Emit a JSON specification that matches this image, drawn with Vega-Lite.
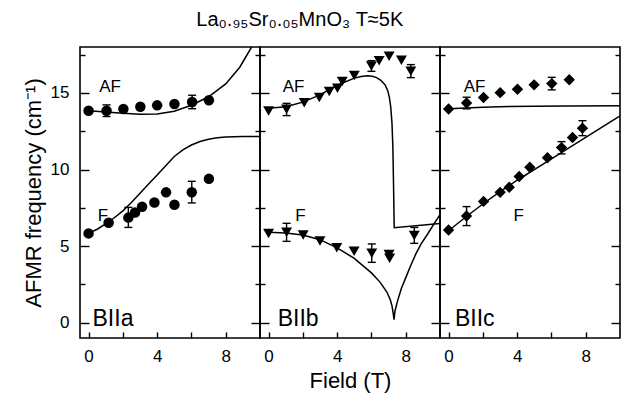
{
  "$schema": "https://vega.github.io/schema/vega-lite/v6.json",
  "padding": {"left": 21, "top": 10, "right": 2, "bottom": 2},
  "config": {
    "font": "Liberation Sans",
    "view": {"stroke": "black", "strokeWidth": 1.6},
    "axis": {
      "domain": false, "grid": false, "tickColor": "black", "tickWidth": 1.4,
      "labelFont": "Liberation Sans", "labelFontSize": 17, "labelColor": "black",
      "titleFont": "Liberation Sans", "titleFontSize": 22, "titleFontWeight": "normal", "titleColor": "black"
    }
  },
  "title": {"text": "La₀.₉₅Sr₀.₀₅MnO₃\u00a0T≈5K", "fontSize": 20, "fontWeight": "normal", "font": "Liberation Sans", "color": "black", "anchor": "start", "dx": 175, "offset": 16},
  "spacing": 0,
  "bounds": "flush",
  "datasets": {
    "points": [
      {"panel": "a", "s": "AF", "t": 0, "v": 13.84}, {"panel": "a", "s": "AF", "t": 1.05, "v": 13.84}, {"panel": "a", "s": "AF", "t": 2.03, "v": 13.95}, {"panel": "a", "s": "AF", "t": 3.02, "v": 14.1}, {"panel": "a", "s": "AF", "t": 4.0, "v": 14.19}, {"panel": "a", "s": "AF", "t": 5.01, "v": 14.28}, {"panel": "a", "s": "AF", "t": 6.04, "v": 14.41}, {"panel": "a", "s": "AF", "t": 7.02, "v": 14.52},
      {"panel": "a", "s": "F", "t": 0, "v": 5.83}, {"panel": "a", "s": "F", "t": 1.17, "v": 6.53}, {"panel": "a", "s": "F", "t": 2.32, "v": 6.86}, {"panel": "a", "s": "F", "t": 2.71, "v": 7.19}, {"panel": "a", "s": "F", "t": 3.12, "v": 7.57}, {"panel": "a", "s": "F", "t": 3.84, "v": 7.85}, {"panel": "a", "s": "F", "t": 4.52, "v": 8.51}, {"panel": "a", "s": "F", "t": 5.01, "v": 7.7}, {"panel": "a", "s": "F", "t": 6.02, "v": 8.52}, {"panel": "a", "s": "F", "t": 7.02, "v": 9.39},
      {"panel": "b", "s": "AF", "t": 0, "v": 13.82}, {"panel": "b", "s": "AF", "t": 1.05, "v": 13.93}, {"panel": "b", "s": "AF", "t": 2.08, "v": 14.36}, {"panel": "b", "s": "AF", "t": 2.96, "v": 14.71}, {"panel": "b", "s": "AF", "t": 3.54, "v": 15.09}, {"panel": "b", "s": "AF", "t": 4.02, "v": 15.3}, {"panel": "b", "s": "AF", "t": 4.3, "v": 15.75}, {"panel": "b", "s": "AF", "t": 5.0, "v": 16.14}, {"panel": "b", "s": "AF", "t": 6.0, "v": 16.76}, {"panel": "b", "s": "AF", "t": 6.45, "v": 17.1}, {"panel": "b", "s": "AF", "t": 7.03, "v": 17.39}, {"panel": "b", "s": "AF", "t": 7.75, "v": 17.13}, {"panel": "b", "s": "AF", "t": 8.3, "v": 16.42},
      {"panel": "b", "s": "F", "t": 0, "v": 5.83}, {"panel": "b", "s": "F", "t": 1.05, "v": 5.9}, {"panel": "b", "s": "F", "t": 2.02, "v": 5.72}, {"panel": "b", "s": "F", "t": 3.0, "v": 5.33}, {"panel": "b", "s": "F", "t": 3.98, "v": 4.89}, {"panel": "b", "s": "F", "t": 4.99, "v": 4.67}, {"panel": "b", "s": "F", "t": 6.02, "v": 4.54}, {"panel": "b", "s": "F", "t": 7.03, "v": 4.45}, {"panel": "b", "s": "F", "t": 7.06, "v": 4.2}, {"panel": "b", "s": "F", "t": 8.5, "v": 5.7},
      {"panel": "c", "s": "AF", "t": 0, "v": 13.95}, {"panel": "c", "s": "AF", "t": 1.05, "v": 14.34}, {"panel": "c", "s": "AF", "t": 2.04, "v": 14.7}, {"panel": "c", "s": "AF", "t": 3.01, "v": 15.02}, {"panel": "c", "s": "AF", "t": 4.02, "v": 15.24}, {"panel": "c", "s": "AF", "t": 4.99, "v": 15.53}, {"panel": "c", "s": "AF", "t": 6.02, "v": 15.61}, {"panel": "c", "s": "AF", "t": 7.04, "v": 15.86},
      {"panel": "c", "s": "F", "t": 0, "v": 6.05}, {"panel": "c", "s": "F", "t": 1.05, "v": 6.97}, {"panel": "c", "s": "F", "t": 2.04, "v": 7.92}, {"panel": "c", "s": "F", "t": 3.01, "v": 8.51}, {"panel": "c", "s": "F", "t": 3.54, "v": 8.84}, {"panel": "c", "s": "F", "t": 4.12, "v": 9.54}, {"panel": "c", "s": "F", "t": 4.74, "v": 10.15}, {"panel": "c", "s": "F", "t": 5.77, "v": 10.77}, {"panel": "c", "s": "F", "t": 6.59, "v": 11.43}, {"panel": "c", "s": "F", "t": 7.23, "v": 12.09}, {"panel": "c", "s": "F", "t": 7.81, "v": 12.7}
    ],
    "errs": [
      {"panel": "a", "t": 1.05, "lo": 13.46, "hi": 14.22}, {"panel": "a", "t": 6.04, "lo": 13.97, "hi": 14.85}, {"panel": "a", "t": 2.32, "lo": 6.22, "hi": 7.53}, {"panel": "a", "t": 6.02, "lo": 7.82, "hi": 9.23},
      {"panel": "b", "t": 1.05, "lo": 13.52, "hi": 14.32}, {"panel": "b", "t": 6.0, "lo": 16.41, "hi": 17.11}, {"panel": "b", "t": 8.3, "lo": 16.0, "hi": 16.85},
      {"panel": "b", "t": 1.05, "lo": 5.31, "hi": 6.49}, {"panel": "b", "t": 6.02, "lo": 3.94, "hi": 5.14}, {"panel": "b", "t": 8.5, "lo": 5.18, "hi": 6.22},
      {"panel": "c", "t": 1.05, "lo": 13.96, "hi": 14.72}, {"panel": "c", "t": 6.02, "lo": 15.2, "hi": 16.02},
      {"panel": "c", "t": 1.05, "lo": 6.34, "hi": 7.58}, {"panel": "c", "t": 6.59, "lo": 11.02, "hi": 11.82}, {"panel": "c", "t": 7.81, "lo": 12.21, "hi": 13.19}
    ],
    "curves": [
      {"panel": "a", "s": "AF", "t": 0, "v": 13.84}, {"panel": "a", "s": "AF", "t": 1, "v": 13.75}, {"panel": "a", "s": "AF", "t": 2, "v": 13.67}, {"panel": "a", "s": "AF", "t": 3, "v": 13.61}, {"panel": "a", "s": "AF", "t": 4, "v": 13.63}, {"panel": "a", "s": "AF", "t": 5, "v": 13.8}, {"panel": "a", "s": "AF", "t": 6, "v": 14.2}, {"panel": "a", "s": "AF", "t": 7, "v": 14.75}, {"panel": "a", "s": "AF", "t": 8, "v": 15.59}, {"panel": "a", "s": "AF", "t": 8.82, "v": 16.68}, {"panel": "a", "s": "AF", "t": 9.5, "v": 17.98}, {"panel": "a", "s": "AF", "t": 10, "v": 19.1},
      {"panel": "a", "s": "F", "t": 0, "v": 5.83}, {"panel": "a", "s": "F", "t": 0.5, "v": 6.1}, {"panel": "a", "s": "F", "t": 1, "v": 6.45}, {"panel": "a", "s": "F", "t": 1.5, "v": 6.85}, {"panel": "a", "s": "F", "t": 2, "v": 7.3}, {"panel": "a", "s": "F", "t": 2.5, "v": 7.85}, {"panel": "a", "s": "F", "t": 3, "v": 8.45}, {"panel": "a", "s": "F", "t": 3.5, "v": 9.05}, {"panel": "a", "s": "F", "t": 4, "v": 9.65}, {"panel": "a", "s": "F", "t": 4.5, "v": 10.25}, {"panel": "a", "s": "F", "t": 5, "v": 10.85}, {"panel": "a", "s": "F", "t": 5.5, "v": 11.28}, {"panel": "a", "s": "F", "t": 6, "v": 11.6}, {"panel": "a", "s": "F", "t": 6.5, "v": 11.83}, {"panel": "a", "s": "F", "t": 7, "v": 11.98}, {"panel": "a", "s": "F", "t": 7.5, "v": 12.08}, {"panel": "a", "s": "F", "t": 8, "v": 12.13}, {"panel": "a", "s": "F", "t": 9, "v": 12.15}, {"panel": "a", "s": "F", "t": 10, "v": 12.15},
      {"panel": "b", "s": "AF", "t": 0, "v": 14.0}, {"panel": "b", "s": "AF", "t": 1, "v": 14.1}, {"panel": "b", "s": "AF", "t": 2, "v": 14.4}, {"panel": "b", "s": "AF", "t": 3, "v": 14.87}, {"panel": "b", "s": "AF", "t": 4, "v": 15.5}, {"panel": "b", "s": "AF", "t": 5, "v": 15.97}, {"panel": "b", "s": "AF", "t": 5.4, "v": 16.08}, {"panel": "b", "s": "AF", "t": 5.77, "v": 16.12}, {"panel": "b", "s": "AF", "t": 6.05, "v": 16.09}, {"panel": "b", "s": "AF", "t": 6.3, "v": 16.0}, {"panel": "b", "s": "AF", "t": 6.55, "v": 15.83}, {"panel": "b", "s": "AF", "t": 6.8, "v": 15.52}, {"panel": "b", "s": "AF", "t": 6.95, "v": 15.15}, {"panel": "b", "s": "AF", "t": 7.05, "v": 14.7}, {"panel": "b", "s": "AF", "t": 7.13, "v": 14.05}, {"panel": "b", "s": "AF", "t": 7.2, "v": 13.0}, {"panel": "b", "s": "AF", "t": 7.25, "v": 11.5}, {"panel": "b", "s": "AF", "t": 7.29, "v": 9.0}, {"panel": "b", "s": "AF", "t": 7.31, "v": 7.5}, {"panel": "b", "s": "AF", "t": 7.33, "v": 6.2}, {"panel": "b", "s": "AF", "t": 10, "v": 6.47},
      {"panel": "b", "s": "F", "t": 0, "v": 5.9}, {"panel": "b", "s": "F", "t": 1, "v": 5.85}, {"panel": "b", "s": "F", "t": 2, "v": 5.72}, {"panel": "b", "s": "F", "t": 3, "v": 5.42}, {"panel": "b", "s": "F", "t": 4, "v": 4.88}, {"panel": "b", "s": "F", "t": 5, "v": 4.2}, {"panel": "b", "s": "F", "t": 6, "v": 3.25}, {"panel": "b", "s": "F", "t": 6.5, "v": 2.65}, {"panel": "b", "s": "F", "t": 6.9, "v": 2.0}, {"panel": "b", "s": "F", "t": 7.1, "v": 1.5}, {"panel": "b", "s": "F", "t": 7.2, "v": 1.1}, {"panel": "b", "s": "F", "t": 7.27, "v": 0.6}, {"panel": "b", "s": "F", "t": 7.32, "v": 0.2}, {"panel": "b", "s": "F", "t": 7.37, "v": 0.75}, {"panel": "b", "s": "F", "t": 7.53, "v": 1.44}, {"panel": "b", "s": "F", "t": 7.75, "v": 2.25}, {"panel": "b", "s": "F", "t": 8.01, "v": 2.96}, {"panel": "b", "s": "F", "t": 8.3, "v": 3.75}, {"panel": "b", "s": "F", "t": 8.59, "v": 4.49}, {"panel": "b", "s": "F", "t": 8.9, "v": 5.15}, {"panel": "b", "s": "F", "t": 9.28, "v": 5.79}, {"panel": "b", "s": "F", "t": 9.65, "v": 6.45}, {"panel": "b", "s": "F", "t": 10, "v": 7.05},
      {"panel": "c", "s": "AF", "t": 0, "v": 13.97}, {"panel": "c", "s": "AF", "t": 1, "v": 14.02}, {"panel": "c", "s": "AF", "t": 2, "v": 14.07}, {"panel": "c", "s": "AF", "t": 3, "v": 14.1}, {"panel": "c", "s": "AF", "t": 5, "v": 14.13}, {"panel": "c", "s": "AF", "t": 7, "v": 14.15}, {"panel": "c", "s": "AF", "t": 10, "v": 14.17},
      {"panel": "c", "s": "F", "t": 0, "v": 6.0}, {"panel": "c", "s": "F", "t": 1, "v": 6.9}, {"panel": "c", "s": "F", "t": 2, "v": 7.75}, {"panel": "c", "s": "F", "t": 3, "v": 8.55}, {"panel": "c", "s": "F", "t": 4, "v": 9.3}, {"panel": "c", "s": "F", "t": 5, "v": 10.0}, {"panel": "c", "s": "F", "t": 6, "v": 10.7}, {"panel": "c", "s": "F", "t": 7, "v": 11.4}, {"panel": "c", "s": "F", "t": 8, "v": 12.1}, {"panel": "c", "s": "F", "t": 9, "v": 12.8}, {"panel": "c", "s": "F", "t": 10, "v": 13.5}
    ],
    "labels": [
      {"panel": "a", "kind": "phase", "t": 0.62, "v": 15.37, "text": "AF"}, {"panel": "a", "kind": "phase", "t": 0.53, "v": 6.94, "text": "F"}, {"panel": "a", "kind": "geom", "t": 0.23, "v": 0.24, "text": "BIIa"},
      {"panel": "b", "kind": "phase", "t": 0.82, "v": 15.4, "text": "AF"}, {"panel": "b", "kind": "phase", "t": 1.56, "v": 6.99, "text": "F"}, {"panel": "b", "kind": "geom", "t": 0.53, "v": 0.26, "text": "BIIb"},
      {"panel": "c", "kind": "phase", "t": 0.88, "v": 15.37, "text": "AF"}, {"panel": "c", "kind": "phase", "t": 3.79, "v": 6.96, "text": "F"}, {"panel": "c", "kind": "geom", "t": 0.37, "v": 0.25, "text": "BIIc"}
    ]
  },
  "hconcat": [
    {
      "width": 180, "height": 291,
      "resolve": {"axis": {"y": "independent"}},
      "layer": [
        {"data": {"name": "curves"}, "transform": [{"filter": "datum.panel === 'a'"}],
         "mark": {"type": "line", "color": "black", "strokeWidth": 1.5, "clip": true},
         "encoding": {
           "x": {"field": "t", "type": "quantitative", "scale": {"domain": [-0.5, 10], "nice": false, "zero": false},
                 "axis": {"orient": "bottom", "values": [0, 2, 4, 6, 8], "labelExpr": "datum.value % 4 === 0 ? datum.label : ''", "title": null, "tickSize": 6, "offset": -6, "labelPadding": 10, "labelFontSize": 17}},
           "y": {"field": "v", "type": "quantitative", "scale": {"domain": [-1, 18], "nice": false, "zero": false},
                 "axis": {"orient": "left", "values": [0, 5, 10, 15], "title": "AFMR frequency (cm⁻¹)", "tickSize": 9, "offset": -9, "labelPadding": 11, "titlePadding": 5, "labelFontSize": 17, "titleFontSize": 22}},
           "detail": {"field": "s"}
         }},
        {"data": {"name": "points"}, "transform": [{"filter": "datum.panel === 'a'"}],
         "mark": {"type": "point", "shape": "circle", "filled": true, "color": "black", "opacity": 1, "size": 110},
         "encoding": {"x": {"field": "t", "type": "quantitative"}, "y": {"field": "v", "type": "quantitative", "axis": null}}},
        {"data": {"name": "errs"}, "transform": [{"filter": "datum.panel === 'a'"}],
         "mark": {"type": "rule", "color": "black", "strokeWidth": 1.4},
         "encoding": {"x": {"field": "t", "type": "quantitative"}, "y": {"field": "lo", "type": "quantitative", "axis": null}, "y2": {"field": "hi"}}},
        {"data": {"name": "errs"}, "transform": [{"filter": "datum.panel === 'a'"}],
         "mark": {"type": "tick", "orient": "horizontal", "color": "black", "size": 8, "thickness": 1.4, "opacity": 1},
         "encoding": {"x": {"field": "t", "type": "quantitative"}, "y": {"field": "lo", "type": "quantitative", "axis": null}}},
        {"data": {"name": "errs"}, "transform": [{"filter": "datum.panel === 'a'"}],
         "mark": {"type": "tick", "orient": "horizontal", "color": "black", "size": 8, "thickness": 1.4, "opacity": 1},
         "encoding": {"x": {"field": "t", "type": "quantitative"}, "y": {"field": "hi", "type": "quantitative", "axis": null}}},
        {"data": {"name": "labels"}, "transform": [{"filter": "datum.panel === 'a' && datum.kind === 'phase'"}],
         "mark": {"type": "text", "align": "left", "baseline": "middle", "fontSize": 17, "color": "black"},
         "encoding": {"x": {"field": "t", "type": "quantitative"}, "y": {"field": "v", "type": "quantitative", "axis": null}, "text": {"field": "text"}}},
        {"data": {"name": "labels"}, "transform": [{"filter": "datum.panel === 'a' && datum.kind === 'geom'"}],
         "mark": {"type": "text", "align": "left", "baseline": "middle", "fontSize": 23, "color": "black"},
         "encoding": {"x": {"field": "t", "type": "quantitative"}, "y": {"field": "v", "type": "quantitative", "axis": null}, "text": {"field": "text"}}},
        {"data": {"name": "points"}, "transform": [{"filter": "datum.panel === 'a'"}],
         "mark": {"type": "point", "opacity": 0},
         "encoding": {"x": {"field": "t", "type": "quantitative"}, "y": {"field": "v", "type": "quantitative", "axis": {"orient": "left", "values": [2.5, 7.5, 12.5, 17.5], "labels": false, "title": null, "tickSize": 5, "offset": -5}}}},
        {"data": {"name": "points"}, "transform": [{"filter": "datum.panel === 'a'"}],
         "mark": {"type": "point", "opacity": 0},
         "encoding": {"x": {"field": "t", "type": "quantitative"}, "y": {"field": "v", "type": "quantitative", "axis": {"orient": "right", "values": [0, 5, 10, 15], "labels": false, "title": null, "tickSize": 9, "offset": -9}}}},
        {"data": {"name": "points"}, "transform": [{"filter": "datum.panel === 'a'"}],
         "mark": {"type": "point", "opacity": 0},
         "encoding": {"x": {"field": "t", "type": "quantitative"}, "y": {"field": "v", "type": "quantitative", "axis": {"orient": "right", "values": [2.5, 7.5, 12.5, 17.5], "labels": false, "title": null, "tickSize": 5, "offset": -5}}}}
      ]
    },
    {
      "width": 180, "height": 291,
      "resolve": {"axis": {"y": "independent"}},
      "layer": [
        {"data": {"name": "curves"}, "transform": [{"filter": "datum.panel === 'b'"}],
         "mark": {"type": "line", "color": "black", "strokeWidth": 1.5, "clip": true},
         "encoding": {
           "x": {"field": "t", "type": "quantitative", "scale": {"domain": [-0.5, 10], "nice": false, "zero": false},
                 "axis": {"orient": "bottom", "values": [0, 2, 4, 6, 8], "labelExpr": "datum.value % 4 === 0 ? datum.label : ''", "title": "Field (T)", "titlePadding": 6, "tickSize": 6, "offset": -6, "labelPadding": 10, "labelFontSize": 17, "titleFontSize": 22}},
           "y": {"field": "v", "type": "quantitative", "scale": {"domain": [-1, 18], "nice": false, "zero": false},
                 "axis": {"orient": "left", "values": [0, 5, 10, 15], "labels": false, "title": null, "tickSize": 9, "offset": -9}},
           "detail": {"field": "s"}
         }},
        {"data": {"name": "points"}, "transform": [{"filter": "datum.panel === 'b'"}],
         "mark": {"type": "point", "shape": "triangle-down", "filled": true, "color": "black", "opacity": 1, "size": 120},
         "encoding": {"x": {"field": "t", "type": "quantitative"}, "y": {"field": "v", "type": "quantitative", "axis": null}}},
        {"data": {"name": "errs"}, "transform": [{"filter": "datum.panel === 'b'"}],
         "mark": {"type": "rule", "color": "black", "strokeWidth": 1.4},
         "encoding": {"x": {"field": "t", "type": "quantitative"}, "y": {"field": "lo", "type": "quantitative", "axis": null}, "y2": {"field": "hi"}}},
        {"data": {"name": "errs"}, "transform": [{"filter": "datum.panel === 'b'"}],
         "mark": {"type": "tick", "orient": "horizontal", "color": "black", "size": 8, "thickness": 1.4, "opacity": 1},
         "encoding": {"x": {"field": "t", "type": "quantitative"}, "y": {"field": "lo", "type": "quantitative", "axis": null}}},
        {"data": {"name": "errs"}, "transform": [{"filter": "datum.panel === 'b'"}],
         "mark": {"type": "tick", "orient": "horizontal", "color": "black", "size": 8, "thickness": 1.4, "opacity": 1},
         "encoding": {"x": {"field": "t", "type": "quantitative"}, "y": {"field": "hi", "type": "quantitative", "axis": null}}},
        {"data": {"name": "labels"}, "transform": [{"filter": "datum.panel === 'b' && datum.kind === 'phase'"}],
         "mark": {"type": "text", "align": "left", "baseline": "middle", "fontSize": 17, "color": "black"},
         "encoding": {"x": {"field": "t", "type": "quantitative"}, "y": {"field": "v", "type": "quantitative", "axis": null}, "text": {"field": "text"}}},
        {"data": {"name": "labels"}, "transform": [{"filter": "datum.panel === 'b' && datum.kind === 'geom'"}],
         "mark": {"type": "text", "align": "left", "baseline": "middle", "fontSize": 23, "color": "black"},
         "encoding": {"x": {"field": "t", "type": "quantitative"}, "y": {"field": "v", "type": "quantitative", "axis": null}, "text": {"field": "text"}}},
        {"data": {"name": "points"}, "transform": [{"filter": "datum.panel === 'b'"}],
         "mark": {"type": "point", "opacity": 0},
         "encoding": {"x": {"field": "t", "type": "quantitative"}, "y": {"field": "v", "type": "quantitative", "axis": {"orient": "left", "values": [2.5, 7.5, 12.5, 17.5], "labels": false, "title": null, "tickSize": 5, "offset": -5}}}},
        {"data": {"name": "points"}, "transform": [{"filter": "datum.panel === 'b'"}],
         "mark": {"type": "point", "opacity": 0},
         "encoding": {"x": {"field": "t", "type": "quantitative"}, "y": {"field": "v", "type": "quantitative", "axis": {"orient": "right", "values": [0, 5, 10, 15], "labels": false, "title": null, "tickSize": 9, "offset": -9}}}},
        {"data": {"name": "points"}, "transform": [{"filter": "datum.panel === 'b'"}],
         "mark": {"type": "point", "opacity": 0},
         "encoding": {"x": {"field": "t", "type": "quantitative"}, "y": {"field": "v", "type": "quantitative", "axis": {"orient": "right", "values": [2.5, 7.5, 12.5, 17.5], "labels": false, "title": null, "tickSize": 5, "offset": -5}}}}
      ]
    },
    {
      "width": 180, "height": 291,
      "resolve": {"axis": {"y": "independent"}},
      "layer": [
        {"data": {"name": "curves"}, "transform": [{"filter": "datum.panel === 'c'"}],
         "mark": {"type": "line", "color": "black", "strokeWidth": 1.5, "clip": true},
         "encoding": {
           "x": {"field": "t", "type": "quantitative", "scale": {"domain": [-0.5, 10], "nice": false, "zero": false},
                 "axis": {"orient": "bottom", "values": [0, 2, 4, 6, 8], "labelExpr": "datum.value % 4 === 0 ? datum.label : ''", "title": null, "tickSize": 6, "offset": -6, "labelPadding": 10, "labelFontSize": 17}},
           "y": {"field": "v", "type": "quantitative", "scale": {"domain": [-1, 18], "nice": false, "zero": false},
                 "axis": {"orient": "left", "values": [0, 5, 10, 15], "labels": false, "title": null, "tickSize": 9, "offset": -9}},
           "detail": {"field": "s"}
         }},
        {"data": {"name": "points"}, "transform": [{"filter": "datum.panel === 'c'"}],
         "mark": {"type": "point", "shape": "diamond", "filled": true, "color": "black", "opacity": 1, "size": 130},
         "encoding": {"x": {"field": "t", "type": "quantitative"}, "y": {"field": "v", "type": "quantitative", "axis": null}}},
        {"data": {"name": "errs"}, "transform": [{"filter": "datum.panel === 'c'"}],
         "mark": {"type": "rule", "color": "black", "strokeWidth": 1.4},
         "encoding": {"x": {"field": "t", "type": "quantitative"}, "y": {"field": "lo", "type": "quantitative", "axis": null}, "y2": {"field": "hi"}}},
        {"data": {"name": "errs"}, "transform": [{"filter": "datum.panel === 'c'"}],
         "mark": {"type": "tick", "orient": "horizontal", "color": "black", "size": 8, "thickness": 1.4, "opacity": 1},
         "encoding": {"x": {"field": "t", "type": "quantitative"}, "y": {"field": "lo", "type": "quantitative", "axis": null}}},
        {"data": {"name": "errs"}, "transform": [{"filter": "datum.panel === 'c'"}],
         "mark": {"type": "tick", "orient": "horizontal", "color": "black", "size": 8, "thickness": 1.4, "opacity": 1},
         "encoding": {"x": {"field": "t", "type": "quantitative"}, "y": {"field": "hi", "type": "quantitative", "axis": null}}},
        {"data": {"name": "labels"}, "transform": [{"filter": "datum.panel === 'c' && datum.kind === 'phase'"}],
         "mark": {"type": "text", "align": "left", "baseline": "middle", "fontSize": 17, "color": "black"},
         "encoding": {"x": {"field": "t", "type": "quantitative"}, "y": {"field": "v", "type": "quantitative", "axis": null}, "text": {"field": "text"}}},
        {"data": {"name": "labels"}, "transform": [{"filter": "datum.panel === 'c' && datum.kind === 'geom'"}],
         "mark": {"type": "text", "align": "left", "baseline": "middle", "fontSize": 23, "color": "black"},
         "encoding": {"x": {"field": "t", "type": "quantitative"}, "y": {"field": "v", "type": "quantitative", "axis": null}, "text": {"field": "text"}}},
        {"data": {"name": "points"}, "transform": [{"filter": "datum.panel === 'c'"}],
         "mark": {"type": "point", "opacity": 0},
         "encoding": {"x": {"field": "t", "type": "quantitative"}, "y": {"field": "v", "type": "quantitative", "axis": {"orient": "left", "values": [2.5, 7.5, 12.5, 17.5], "labels": false, "title": null, "tickSize": 5, "offset": -5}}}},
        {"data": {"name": "points"}, "transform": [{"filter": "datum.panel === 'c'"}],
         "mark": {"type": "point", "opacity": 0},
         "encoding": {"x": {"field": "t", "type": "quantitative"}, "y": {"field": "v", "type": "quantitative", "axis": {"orient": "right", "values": [0, 5, 10, 15], "labels": false, "title": null, "tickSize": 9, "offset": -9}}}},
        {"data": {"name": "points"}, "transform": [{"filter": "datum.panel === 'c'"}],
         "mark": {"type": "point", "opacity": 0},
         "encoding": {"x": {"field": "t", "type": "quantitative"}, "y": {"field": "v", "type": "quantitative", "axis": {"orient": "right", "values": [2.5, 7.5, 12.5, 17.5], "labels": false, "title": null, "tickSize": 5, "offset": -5}}}}
      ]
    }
  ]
}
